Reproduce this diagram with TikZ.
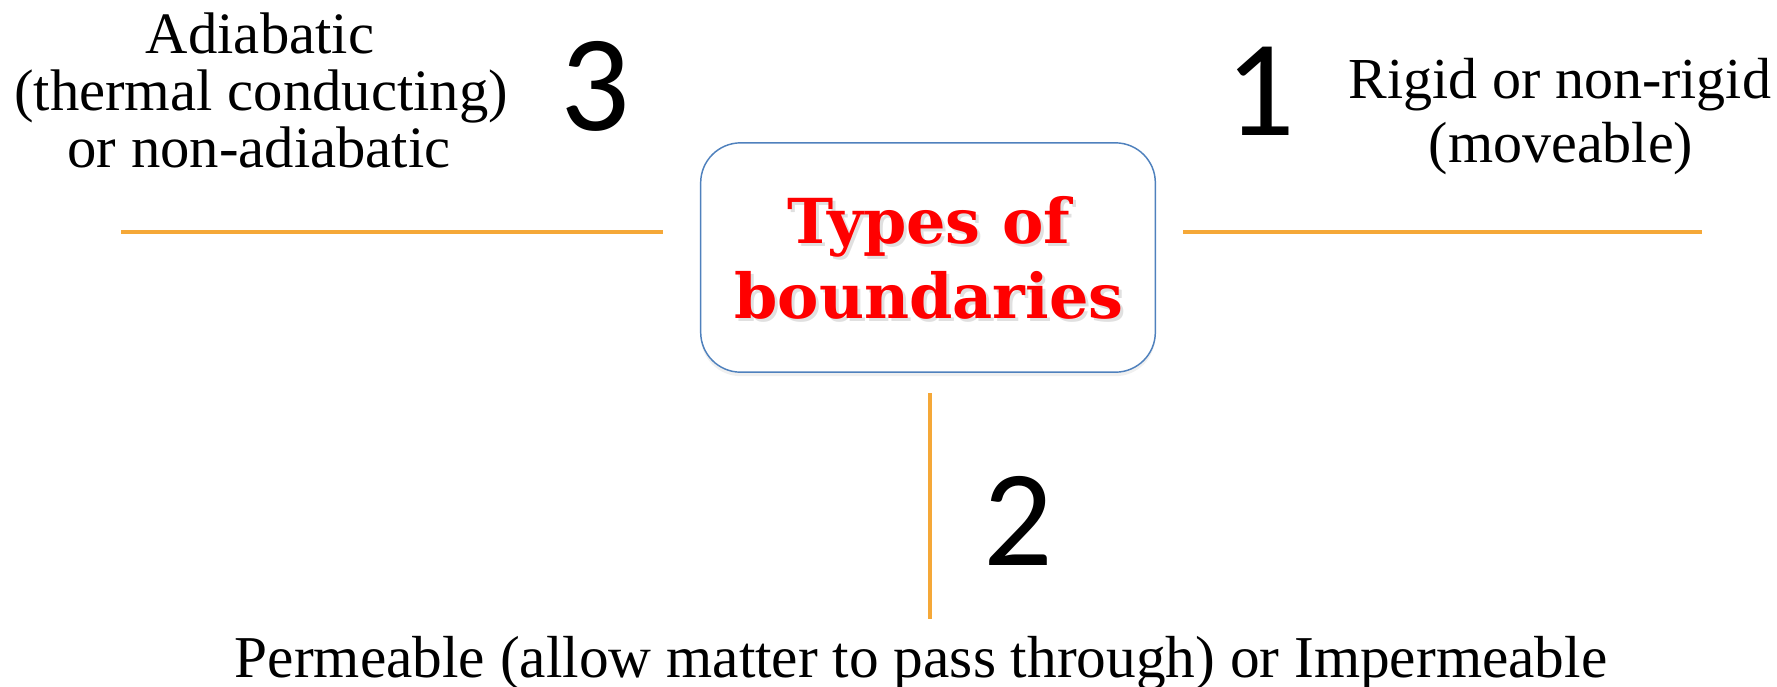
\documentclass[tikz,border=0pt]{standalone}
\usepackage{fontspec}
\setmainfont{Liberation Serif}
\newfontfamily\titlefont{DejaVu Serif}
\newfontfamily\digitfont{Carlito}
\usetikzlibrary{shadows}
\definecolor{boxblue}{RGB}{79,129,189}
\definecolor{lineorange}{RGB}{245,168,56}
\definecolor{titlered}{RGB}{255,0,0}
\tikzset{
  divider/.style={draw=lineorange, line width=3.7pt},
  bigdigit/.style={font=\digitfont\fontsize{103}{110}\selectfont, anchor=base, inner sep=0pt},
  lefttext/.style={font=\fontsize{44}{43}\selectfont, anchor=base, inner sep=0pt},
  righttext/.style={font=\fontsize{43.5}{48}\selectfont, anchor=base, inner sep=0pt},
  bottomtext/.style={font=\fontsize{44.5}{48}\selectfont, anchor=base, inner sep=0pt},
  titletext/.style={font=\titlefont\bfseries\fontsize{46.5}{56}\selectfont, text=titlered, anchor=base, inner sep=0pt},
  titleshadow/.style={font=\titlefont\bfseries\fontsize{46.5}{56}\selectfont, text=black, opacity=0.12, anchor=base, inner sep=0pt},
  typebox/.style={draw=boxblue, line width=1.1pt, fill=white, rounded corners=30pt,
    drop shadow={shadow xshift=0pt, shadow yshift=-3pt, opacity=0.12}}
}
\begin{document}
\begin{tikzpicture}[x=0.75pt, y=-0.75pt]
\useasboundingbox (0,0) rectangle (1777,686);
% central box
\node[typebox, minimum width=341pt, minimum height=172pt] (box) at (928,257.5) {};
% title shadow and text
\node[titleshadow] at (932,246) {Types of};
\node[titleshadow] at (932,321) {boundaries};
\node[titletext] (t1) at (929,243) {Types of};
\node[titletext] (t2) at (929,318) {boundaries};
% dividers
\coordinate (la) at (121,232);
\coordinate (lb) at (663,232);
\coordinate (ra) at (1183,232);
\coordinate (rb) at (1702,232);
\coordinate (va) at (930,393);
\coordinate (vb) at (930,619);
\draw[divider] (la) -- (lb);
\draw[divider] (ra) -- (rb);
\draw[divider] (va) -- (vb);
% numbers
\node[bigdigit] (n3) at (595,130) {3};
\node[bigdigit] (n1) at (1260,135) {1};
\node[bigdigit] (n2) at (1018,565) {2};
% left text
\node[lefttext] (l3a) at (260,53) {Adiabatic};
\node[lefttext] (l3b) at (261,110) {(thermal conducting)};
\node[lefttext] (l3c) at (259,167) {or non-adiabatic};
% right text
\node[righttext] (r1a) at (1560,98) {Rigid or non-rigid};
\node[righttext] (r1b) at (1561,162) {(moveable)};
% bottom text
\node[bottomtext] (b2) at (921,677) {Permeable (allow matter to pass through) or Impermeable};
\end{tikzpicture}
\end{document}
